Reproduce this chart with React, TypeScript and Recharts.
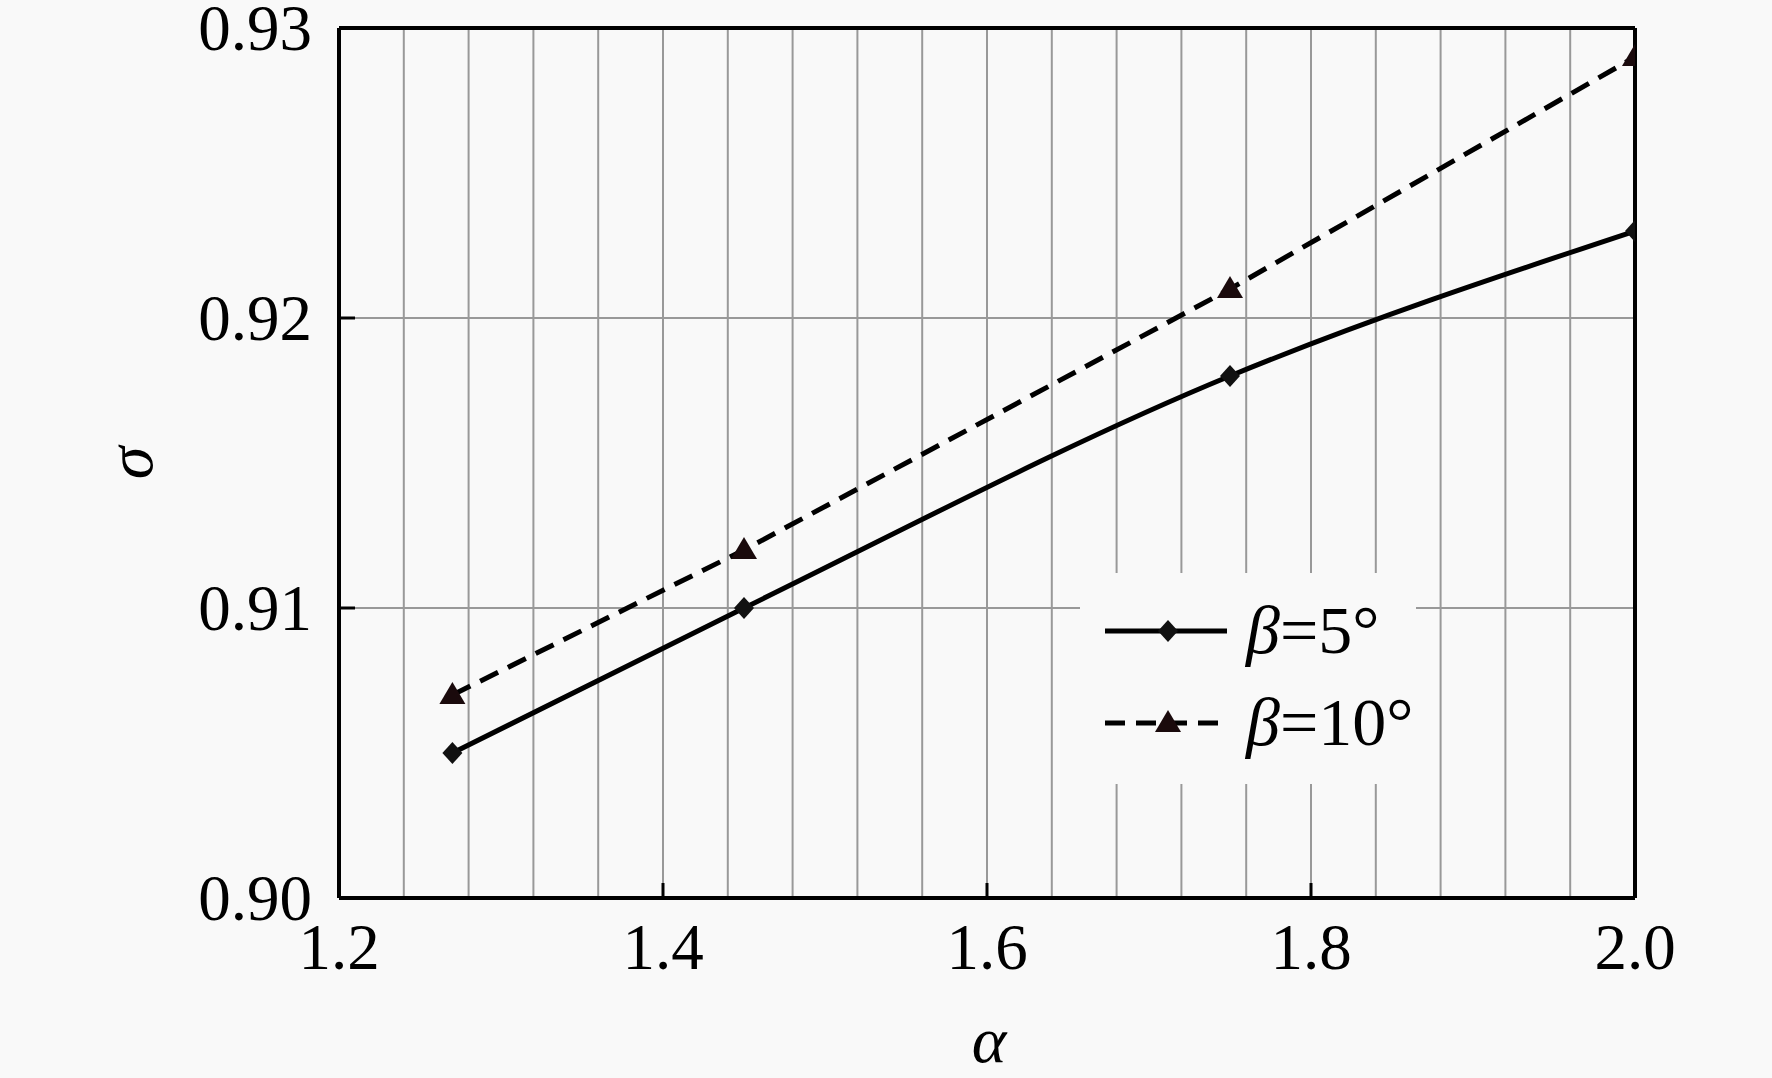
import React from 'react'
import { LineChart, Line, XAxis, YAxis, CartesianGrid, ReferenceLine } from 'recharts'

document.body.style.margin = '0'

// α values
const ALPHA = [1.27, 1.45, 1.75, 2.0]
const SIGMA_B5 = [0.905, 0.91, 0.918, 0.923]
const SIGMA_B10 = [0.907, 0.912, 0.921, 0.929]

const X_TICKS = [1.2, 1.24, 1.28, 1.32, 1.36, 1.4, 1.44, 1.48, 1.52, 1.56, 1.6, 1.64, 1.68, 1.72, 1.76, 1.8, 1.84, 1.88, 1.92, 1.96, 2.0]
const X_LABELS = ['1.2', '1.4', '1.6', '1.8', '2.0']
const Y_TICKS = [0.9, 0.91, 0.92, 0.93]
const Y_LABELS = ['0.90', '0.91', '0.92', '0.93']

const data = ALPHA.map((a, i) => ({ alpha: a, b5: SIGMA_B5[i], b10: SIGMA_B10[i] }))

const FONT = '"Liberation Serif", "Times New Roman", serif'
const BG = '#f9f9f9'

const XTick = (props: any) => {
  const { x, y, payload } = props
  const label = X_LABELS.find((l) => Math.abs(parseFloat(l) - payload.value) < 1e-6)
  if (!label) return null
  return (
    <g>
      <line x1={x} x2={x} y1={y} y2={y - 15} stroke="#000" strokeWidth={3} />
      <text x={x} y={y + 71} textAnchor="middle" fontFamily={FONT} fontSize={65} fill="#000">
        {label}
      </text>
    </g>
  )
}

const YTick = (props: any) => {
  const { x, y, index } = props
  return (
    <g>
      <line x1={x} x2={x + 16} y1={y} y2={y} stroke="#000" strokeWidth={3} />
      <text x={x - 27} y={y + 22} textAnchor="end" fontFamily={FONT} fontSize={65} fill="#000">
        {Y_LABELS[index]}
      </text>
    </g>
  )
}

const Diamond = (props: any) => {
  const { cx, cy } = props
  if (cx == null || cy == null) return null
  return <path d={`M${cx},${cy - 11}L${cx + 10},${cy}L${cx},${cy + 11}L${cx - 10},${cy}Z`} fill="#111" />
}

const Triangle = (props: any) => {
  const { cx, cy } = props
  if (cx == null || cy == null) return null
  return <path d={`M${cx},${cy - 13}L${cx + 13},${cy + 9}L${cx - 13},${cy + 9}Z`} fill="#1a0a0c" />
}

const LegendBox = () => (
  <svg width={336} height={211} style={{ display: 'block', background: BG }}>
    <line x1={25} x2={147} y1={58} y2={58} stroke="#000" strokeWidth={5} />
    <Diamond cx={88} cy={58} />
    <text x={166} y={80} fontFamily={FONT} fontSize={68} fill="#000">
      <tspan fontStyle="italic">β</tspan>=5°
    </text>
    <line x1={25} x2={147} y1={150} y2={150} stroke="#000" strokeWidth={5} strokeDasharray="20 11" />
    <Triangle cx={88} cy={150} />
    <text x={166} y={172} fontFamily={FONT} fontSize={68} fill="#000">
      <tspan fontStyle="italic">β</tspan>=10°
    </text>
  </svg>
)

export default function App() {
  return (
    <div style={{ width: 1772, height: 1078, background: BG, position: 'relative' }}>
      <LineChart width={1772} height={1078} data={data} margin={{ top: 28, right: 137, left: 0, bottom: 0 }}>
        <CartesianGrid stroke="#999" strokeWidth={2} />
        <XAxis
          dataKey="alpha"
          type="number"
          domain={[1.2, 2.0]}
          ticks={X_TICKS}
          interval={0}
          height={180}
          tickSize={0}
          tickMargin={0}
          tickLine={false}
          axisLine={{ stroke: '#000', strokeWidth: 4 }}
          tick={<XTick />}
          allowDataOverflow
        />
        <YAxis
          type="number"
          domain={[0.9, 0.93]}
          ticks={Y_TICKS}
          interval={0}
          width={339}
          tickSize={0}
          tickMargin={0}
          tickLine={false}
          axisLine={{ stroke: '#000', strokeWidth: 4 }}
          tick={<YTick />}
          allowDataOverflow
        />
        <ReferenceLine y={0.93} stroke="#000" strokeWidth={4} />
        <ReferenceLine x={2.0} stroke="#000" strokeWidth={4} />
        <Line
          dataKey="b5"
          type="monotone"
          stroke="#000"
          strokeWidth={5}
          dot={<Diamond />}
          activeDot={false}
          isAnimationActive={false}
        />
        <Line
          dataKey="b10"
          type="linear"
          stroke="#000"
          strokeWidth={5}
          strokeDasharray="20 11"
          dot={<Triangle />}
          activeDot={false}
          isAnimationActive={false}
        />
      </LineChart>
      <div style={{ position: 'absolute', left: 1080, top: 573 }}>
        <LegendBox />
      </div>
      <div
        style={{
          position: 'absolute',
          left: 130,
          top: 463,
          transform: 'translate(-50%, -50%) rotate(-90deg)',
          fontFamily: FONT,
          fontStyle: 'italic',
          fontSize: 66,
          lineHeight: 1,
        }}
      >
        σ
      </div>
      <div
        style={{
          position: 'absolute',
          left: 989,
          top: 1040,
          transform: 'translate(-50%, -50%)',
          fontFamily: FONT,
          fontStyle: 'italic',
          fontSize: 66,
          lineHeight: 1,
        }}
      >
        α
      </div>
    </div>
  )
}
